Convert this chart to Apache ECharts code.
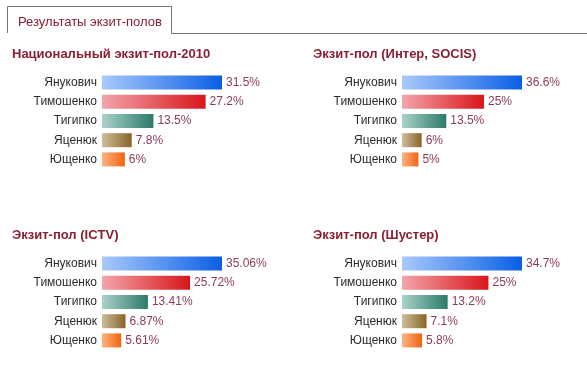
<!DOCTYPE html>
<html>
<head>
<meta charset="utf-8">
<script src="https://cdn.jsdelivr.net/npm/echarts@6/dist/echarts.min.js"></script>
<style>
  html, body { margin: 0; padding: 0; background: #fff; }
  #chart { width: 587px; height: 375px; }
</style>
</head>
<body>
<div id="chart"></div>
<script>
// данные экзит-полов
const candidates = ['Янукович', 'Тимошенко', 'Тигипко', 'Яценюк', 'Ющенко'];
const pollTitles = ['Национальный экзит-пол-2010', 'Экзит-пол (Интер, SOCIS)', 'Экзит-пол (ICTV)', 'Экзит-пол (Шустер)'];
const nationalValues = [31.5, 27.2, 13.5, 7.8, 6];
const interValues = [36.6, 25, 13.5, 6, 5];
const ictvValues = [35.06, 25.72, 13.41, 6.87, 5.61];
const shusterValues = [34.7, 25, 13.2, 7.1, 5.8];
const tabLabel = 'Результаты экзит-полов';

const chart = echarts.init(document.getElementById('chart'));
const font = '"Liberation Sans", Arial, sans-serif';

// цвета градиентов (светлый -> тёмный) для каждого кандидата
const gradients = [
    ['#a9c9fa', '#0a5fe6'],
    ['#f3a4ab', '#d8161a'],
    ['#abd2c9', '#2c7a6b'],
    ['#cdbd9c', '#8a6428'],
    ['#fbb383', '#f2640e']
];

const panels = [
    { values: nationalValues, left: 102, top: 73, tx: 12, ty: 48 },
    { values: interValues, left: 402, top: 73, tx: 313, ty: 48 },
    { values: ictvValues, left: 102, top: 254, tx: 12, ty: 229 },
    { values: shusterValues, left: 402, top: 254, tx: 313, ty: 229 }
];

const grids = [], xAxes = [], yAxes = [], series = [], titles = [];
panels.forEach((p, i) => {
    grids.push({ left: p.left, top: p.top, width: 120, height: 96 });
    xAxes.push({ type: 'value', gridIndex: i, min: 0, max: 'dataMax', show: false });
    yAxes.push({
        type: 'category', gridIndex: i, data: candidates, inverse: true,
        axisLine: { show: false }, axisTick: { show: false }, splitLine: { show: false },
        axisLabel: { margin: 5, fontSize: 12, color: '#2b2b2b', fontFamily: font }
    });
    titles.push({
        text: pollTitles[i], left: p.tx, top: p.ty, padding: 0,
        textStyle: { fontSize: 13, fontWeight: 'bold', color: '#8a1f33', fontFamily: font }
    });
    series.push({
        type: 'bar', xAxisIndex: i, yAxisIndex: i, barWidth: 14,
        data: p.values.map((v, k) => ({
            value: v,
            itemStyle: {
                color: new echarts.graphic.LinearGradient(0, 0, 1, 0, [
                    { offset: 0, color: gradients[k][0] },
                    { offset: 1, color: gradients[k][1] }
                ])
            }
        })),
        label: {
            show: true, position: 'right', distance: 4, formatter: '{c}%',
            fontSize: 12, color: '#8c3a5c', fontFamily: font
        },
        silent: true
    });
});

chart.setOption({
    animation: false,
    title: titles,
    grid: grids,
    xAxis: xAxes,
    yAxis: yAxes,
    series: series,
    graphic: [
        // вкладка
        {
            type: 'polyline',
            shape: { points: [[7.5, 33], [7.5, 6.5], [171.5, 6.5], [171.5, 33.5], [587, 33.5]] },
            style: { stroke: '#777', lineWidth: 1, fill: null }
        },
        {
            type: 'text', left: 18, top: 16,
            style: { text: tabLabel, fontSize: 13, fill: '#8a1f33', fontFamily: font }
        }
    ]
});
</script>
</body>
</html>
